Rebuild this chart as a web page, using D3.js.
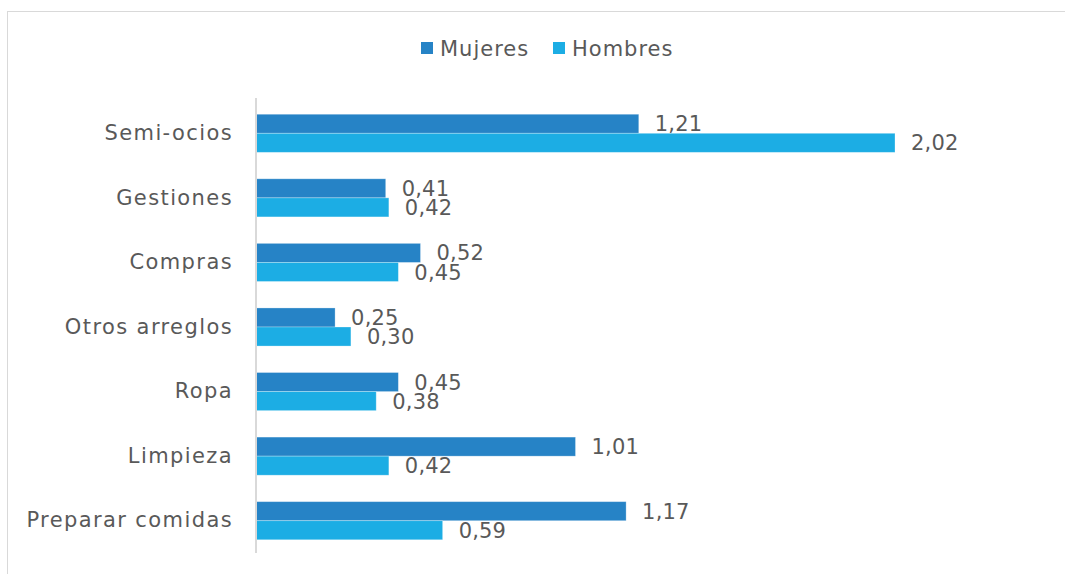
<!DOCTYPE html>
<html>
<head>
<meta charset="utf-8">
<script src="https://cdn.jsdelivr.net/npm/d3@7"></script>
<style>
  body { margin: 0; background: #fff; }
  svg { display: block; }
  text { font-family: "DejaVu Sans", sans-serif; fill: #595959; }
</style>
</head>
<body>
<div id="chart"></div>
<script>
const categories = ["Semi-ocios", "Gestiones", "Compras", "Otros arreglos", "Ropa", "Limpieza", "Preparar comidas"];
const mujeres = [1.21, 0.41, 0.52, 0.25, 0.45, 1.01, 1.17];
const hombres = [2.02, 0.42, 0.45, 0.30, 0.38, 0.42, 0.59];
const seriesNames = ["Mujeres", "Hombres"];
const colors = ["#2683C6", "#1CADE4"];

const width = 1065, height = 574;
const margin = { left: 256, top: 101, bottom: 21 };

const svg = d3.select("#chart").append("svg")
    .attr("width", width)
    .attr("height", height);

// chart area border
svg.append("rect")
    .attr("x", 7.5).attr("y", 11.5)
    .attr("width", width + 10).attr("height", height + 10)
    .attr("fill", "none")
    .attr("stroke", "#d9d9d9");

const x = d3.scaleLinear()
    .domain([0, 2.02])
    .range([margin.left, 895]);

const y = d3.scaleBand()
    .domain(categories)
    .range([margin.top, height - margin.bottom])
    .paddingInner(0.41)
    .paddingOuter(0.205);

const ySub = d3.scaleBand()
    .domain(seriesNames)
    .range([0, y.bandwidth()]);

const fmt = v => v.toFixed(2).replace(".", ",");

const rows = categories.map((c, i) => ({ cat: c, values: [mujeres[i], hombres[i]] }));

const groups = svg.selectAll("g.cat")
    .data(rows)
    .enter()
    .append("g")
    .attr("class", "cat")
    .attr("transform", d => `translate(0,${y(d.cat)})`);

groups.selectAll("rect")
    .data(d => d.values.map((v, j) => ({ name: seriesNames[j], v })))
    .enter()
    .append("rect")
    .attr("x", x(0))
    .attr("y", d => ySub(d.name))
    .attr("width", d => x(d.v) - x(0))
    .attr("height", ySub.bandwidth())
    .attr("fill", (d, j) => colors[j])
    .attr("stroke", "#ffffff")
    .attr("stroke-opacity", 0.35)
    .attr("stroke-width", 0.8);

// value labels
groups.selectAll("text.val")
    .data(d => d.values.map((v, j) => ({ name: seriesNames[j], v })))
    .enter()
    .append("text")
    .attr("class", "val")
    .attr("x", d => x(d.v) + 16)
    .attr("y", d => ySub(d.name) + ySub.bandwidth() / 2)
    .attr("dy", "0.36em")
    .style("font-size", "21px")
    .style("letter-spacing", "0.2px")
    .text(d => fmt(d.v));

// category axis
const yAxis = svg.append("g")
    .attr("transform", `translate(${x(0)},0)`)
    .call(d3.axisLeft(y).tickSize(0).tickPadding(23));
yAxis.select(".domain")
    .attr("d", `M0,${y.range()[0] - 3}V${y.range()[1]}`)
    .attr("stroke", "#d9d9d9")
    .attr("stroke-width", 2);
yAxis.selectAll(".tick text")
    .style("font-family", "DejaVu Sans, sans-serif")
    .style("font-size", "21px")
    .style("letter-spacing", "1.4px")
    .attr("fill", "#595959");

// legend
const legend = svg.append("g").attr("transform", "translate(421,48)");
const legX = [0, 132];
seriesNames.forEach((name, j) => {
    const g = legend.append("g").attr("transform", `translate(${legX[j]},0)`);
    g.append("rect")
        .attr("x", 0).attr("y", -6)
        .attr("width", 12).attr("height", 12)
        .attr("fill", colors[j]);
    g.append("text")
        .attr("x", 19)
        .attr("dy", "0.36em")
        .style("font-size", "21px")
        .style("letter-spacing", "1px")
        .text(name);
});
</script>
</body>
</html>
